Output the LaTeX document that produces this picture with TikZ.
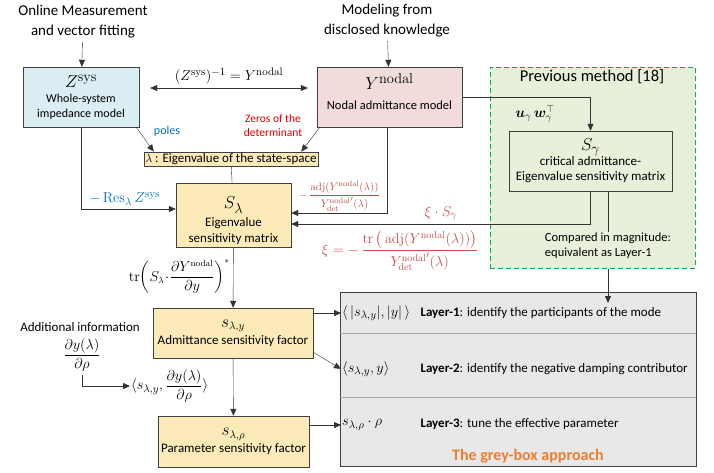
\documentclass[tikz,border=0pt]{standalone}
\usepackage{amsmath,amssymb,bm}
\usepackage[no-math]{fontspec}
\setmainfont{Carlito}
\usepackage{xcolor}
\usetikzlibrary{arrows.meta,positioning}
\definecolor{sysblue}{HTML}{DAEEF3}
\definecolor{nodalpink}{HTML}{F2DCDB}
\definecolor{sensyellow}{HTML}{FCEAB8}
\definecolor{prevgreen}{HTML}{E8EFDA}
\definecolor{dashgreen}{HTML}{00B050}
\definecolor{greyarea}{HTML}{E8E8E8}
\definecolor{labelred}{HTML}{C0504D}
\definecolor{zerored}{HTML}{E00000}
\definecolor{poleblue}{HTML}{0070C0}
\definecolor{approachorange}{HTML}{ED7D31}
\newcommand{\bigsym}[1]{{\fontsize{19}{21}\selectfont$#1$}}
\tikzset{
    model/.style={
        shape=rectangle,
        draw=black!75,
        align=center,
        inner sep=2pt,
        font=\fontsize{12}{15}\selectfont
    },
    sensitivity/.style={
        model,
        fill=sensyellow,
        font=\fontsize{13}{16}\selectfont
    },
    heading/.style={
        align=center,
        font=\fontsize{15}{20}\selectfont
    },
    plain/.style={
        align=center,
        font=\fontsize{12.5}{15}\selectfont
    },
    formula/.style={
        font=\fontsize{15}{17}\selectfont
    },
    layer/.style={
        anchor=west,
        font=\fontsize{13}{15}\selectfont
    },
    flow/.style={
        ->,
        draw=black!80
    },
    link/.style={
        draw=black!80
    },
    rowline/.style={
        draw=black!35
    }
}

\begin{document}
\begin{tikzpicture}[x=1pt, y=-1pt, >={Triangle[length=7pt, width=6pt]}]
    \useasboundingbox (0,0) rectangle (714,472);

    % models
    \node[heading] (meas) at (83,22) {Online Measurement\\and vector fitting};
    \node[heading] (disclosed) at (387,21) {Modeling from\\disclosed knowledge};
    \node[model, fill=sysblue, minimum width=116pt, minimum height=60pt] (zsys) at (81,97)
        {\bigsym{Z^{\mathrm{sys}}}\\Whole-system\\impedance model};
    \node[model, fill=nodalpink, minimum width=145pt, minimum height=60pt,
        font=\fontsize{12.5}{15}\selectfont] (ynod) at (389.5,97)
        {\bigsym{Y^{\mathrm{nodal}}}\\[5pt]Nodal admittance model\\[-4pt]\mbox{}};

    % previous method
    \node[draw=dashgreen, fill=prevgreen, line width=1pt, dash pattern=on 5pt off 3pt,
        minimum width=205pt, minimum height=201pt] (prev) at (592.5,167.5) {};
    \node[heading, font=\fontsize{16.5}{20}\selectfont] (prevtitle) at (592,77) {Previous method [18]};
    \node[model, fill=prevgreen, minimum width=163pt, minimum height=60pt,
        font=\fontsize{13}{15}\selectfont] (sgam) at (590.5,161)
        {\bigsym{S_\gamma}\\critical admittance-\\Eigenvalue sensitivity matrix};
    \node[formula, font=\fontsize{14}{16}\selectfont] (uw) at (535,114) {$\bm{u}_\gamma\,\bm{w}_\gamma^{\top}$};
    \node[plain, align=left, fill=prevgreen, inner sep=1pt] (cmp) at (608,246)
        {Compared in magnitude:\\equivalent as Layer-1};

    % eigenvalue
    \node[sensitivity, inner sep=1.5pt] (lam) at (231,159) {$\lambda$ : Eigenvalue of the state-space};
    \node[sensitivity, minimum width=115pt, minimum height=64pt] (sl) at (233.5,215)
        {\rule{0pt}{24pt}\bigsym{S_\lambda}\\[2pt]Eigenvalue\\sensitivity matrix};
    \node[plain, text=poleblue, font=\fontsize{12}{14}\selectfont] (poles) at (167,131) {poles};
    \node[plain, text=zerored, font=\fontsize{11.5}{14}\selectfont] (zeros) at (273,126) {Zeros of the\\determinant};
    \node[formula, text=labelred, font=\fontsize{14.5}{17}\selectfont] (xi) at (400,251)
        {$\xi = -\,\dfrac{\operatorname{tr}\big(\operatorname{adj}(Y^{\mathrm{nodal}}(\lambda))\big)}{{Y^{\mathrm{nodal}}_{\mathrm{det}}}'(\lambda)}$};

    % sensitivity factors
    \node[sensitivity, minimum width=160pt, minimum height=50pt] (adm) at (233,333)
        {{\fontsize{16}{18}\selectfont$s_{\lambda,y}$}\\[1pt]Admittance sensitivity factor};
    \node[sensitivity, minimum width=151pt, minimum height=51pt] (param) at (233.5,441.5)
        {{\fontsize{16}{18}\selectfont$s_{\lambda,\rho}$}\\[1pt]Parameter sensitivity factor};
    \node[plain, font=\fontsize{13}{15}\selectfont] (addinfo) at (80,327) {Additional information};
    \node[formula, font=\fontsize{13.5}{15}\selectfont] (dydrho) at (82,355) {$\dfrac{\partial y(\lambda)}{\partial \rho}$};
    \node[formula, anchor=west, inner sep=1pt] (prod) at (130,386)
        {$\langle s_{\lambda,y}, \dfrac{\partial y(\lambda)}{\partial \rho}\rangle$};

    % grey-box approach
    \node[draw=black!75, fill=greyarea, minimum width=356pt, minimum height=174pt] (grey) at (518,379) {};
    \draw[rowline] ([yshift=-41pt]grey.north west) -- ([yshift=-41pt]grey.north east);
    \draw[rowline] ([yshift=-105pt]grey.north west) -- ([yshift=-105pt]grey.north east);
    \node[formula, anchor=west, inner sep=1pt] (l1) at (341,313) {$\langle\,|s_{\lambda,y}|,|y|\,\rangle$};
    \node[formula, anchor=west, inner sep=1pt] (l2) at (341,369) {$\langle s_{\lambda,y},y\rangle$};
    \node[formula, anchor=west, inner sep=1pt] (l3) at (341,425) {$s_{\lambda,\rho}\cdot\rho$};
    \node[layer] (t1) at (417,313) {\textbf{Layer-1}: identify the participants of the mode};
    \node[layer] (t2) at (417,369) {\textbf{Layer-2}: identify the negative damping contributor};
    \node[layer] (t3) at (417,424) {\textbf{Layer-3}: tune the effective parameter};
    \node[font=\bfseries\fontsize{16}{18}\selectfont, text=approachorange] (approach) at (528,456)
        {The grey-box approach};
    \coordinate (layertip) at (608,303);

    \begin{scope} % upper connectors
        \draw[flow] (meas) -- (zsys);
        \draw[flow] (disclosed) -- (ynod);
        \draw[flow, <->]
        ([xshift=11pt, yshift=9pt]zsys.east)
        to node[above, formula] {$(Z^{\mathrm{sys}})^{-1} = Y^{\mathrm{nodal}}$}
        ([xshift=-9pt, yshift=9pt]ynod.west);
        \draw[flow] (ynod.east) -| (sgam.north);
        \draw[flow] ([xshift=-3pt]zsys.south east) -- ([xshift=10pt]lam.north west);
        \draw[flow] ([xshift=3pt]ynod.south west) -- ([xshift=-17pt]lam.north east);
        \draw[link] (lam) -- (sl);
    \end{scope}
    \begin{scope} % into the eigenvalue sensitivity matrix
        \draw[flow]
        (zsys.south)
        |- node[pos=0.73, above, formula, text=poleblue] {$-\operatorname{Res}_\lambda Z^{\mathrm{sys}}$}
        ([yshift=6pt]sl.west);

        \draw[flow]
        ([xshift=-2pt]ynod.south)
        |- node[pos=0.75, above, text=labelred, inner sep=1.5pt, font=\fontsize{11}{13}\selectfont]
        {$-\,\dfrac{\operatorname{adj}(Y^{\mathrm{nodal}}(\lambda))}{{Y^{\mathrm{nodal}}_{\mathrm{det}}}'(\lambda)}$}
        ([yshift=2pt]sl.east);

        \draw[flow]
        (sgam.south)
        |- node[pos=0.75, above, formula, text=labelred] {$\xi\cdot S_\gamma$}
        ([yshift=-9pt]sl.east);

        \draw[link] (cmp |- sgam.south) -- (cmp.north);
        \draw[flow] (cmp |- prev.south) -- (layertip);
    \end{scope}
    \begin{scope} % sensitivity factors
        \draw[flow]
        (sl)
        to node[pos=0.48, left, formula, font=\fontsize{13.5}{15}\selectfont]
        {$\mathrm{tr}\!\left(S_\lambda\!\cdot\!\dfrac{\partial Y^{\mathrm{nodal}}}{\partial y}\right)^{*}$}
        (adm);
        \draw[flow] (adm) -- (param);
        \draw[flow] (dydrho.south) |- (prod.west);
        \draw[flow] (adm.east |- l1) -- (l1.west);
        \draw[flow] ([yshift=6pt]adm.south east) -- (l2.west);
        \draw[flow] (param.east |- l3) -- (l3.west);
    \end{scope}
\end{tikzpicture}
\end{document}
